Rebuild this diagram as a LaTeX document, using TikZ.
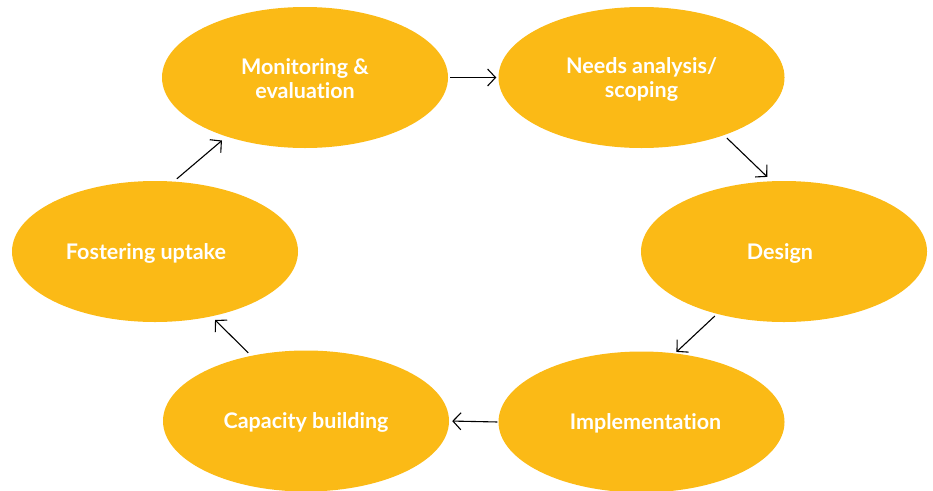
\documentclass[tikz,border=0pt]{standalone}
\usepackage{fontspec}
\setmainfont[Ligatures={NoCommon}]{Lato}
\usetikzlibrary{shapes.geometric,arrows.meta}
\definecolor{stepfill}{HTML}{FBBA16}
\tikzset{
  phase/.style={ellipse, fill=stepfill, draw=none, minimum width=286pt, minimum height=141pt,
    inner sep=0pt, align=center, text=white, font=\bfseries\fontsize{21.5}{24}\selectfont},
  flow/.style={draw=black, line width=1.1pt, -{Straight Barb[length=8pt,width=17pt,line width=1.1pt]}}
}
\begin{document}
\begin{tikzpicture}[x=1pt,y=-1pt]
\useasboundingbox (0,0) rectangle (933,490);
\node[phase] (mon) at (305,77.5) {\rule{0pt}{19pt}Monitoring \&\\evaluation};
\node[phase] (need) at (641.5,77.5) {\rule{0pt}{19pt}Needs analysis/\\scoping};
\node[phase] (des) at (784,251.5) {\rule{0pt}{19pt}Design\hspace*{8pt}};
\node[phase] (imp) at (641.5,422) {\rule{0pt}{19pt}\hspace*{8pt}Implementation};
\node[phase] (cap) at (306,421) {\rule{0pt}{19pt}Capacity building};
\node[phase] (fos) at (155,251.5) {\rule{0pt}{19pt}Fostering uptake\hspace*{18pt}};
\draw[flow, shorten <=2pt, shorten >=2pt] (mon.east) -- (need.west);
\draw[flow, shorten <=4pt, shorten >=6pt] (need.-35.9) -- (des.100.5);
\draw[flow, shorten <=3pt, shorten >=2pt] (des.-137.8) -- (imp.64.4);
\draw[flow, shorten <=1pt, shorten >=3pt] (imp.west) -- (cap.east);
\draw[flow, shorten <=4pt, shorten >=5pt] (cap.130) -- (fos.-49.7);
\draw[flow, shorten <=4pt, shorten >=6pt] (fos.75.5) -- (mon.-143.4);
\end{tikzpicture}
\end{document}
